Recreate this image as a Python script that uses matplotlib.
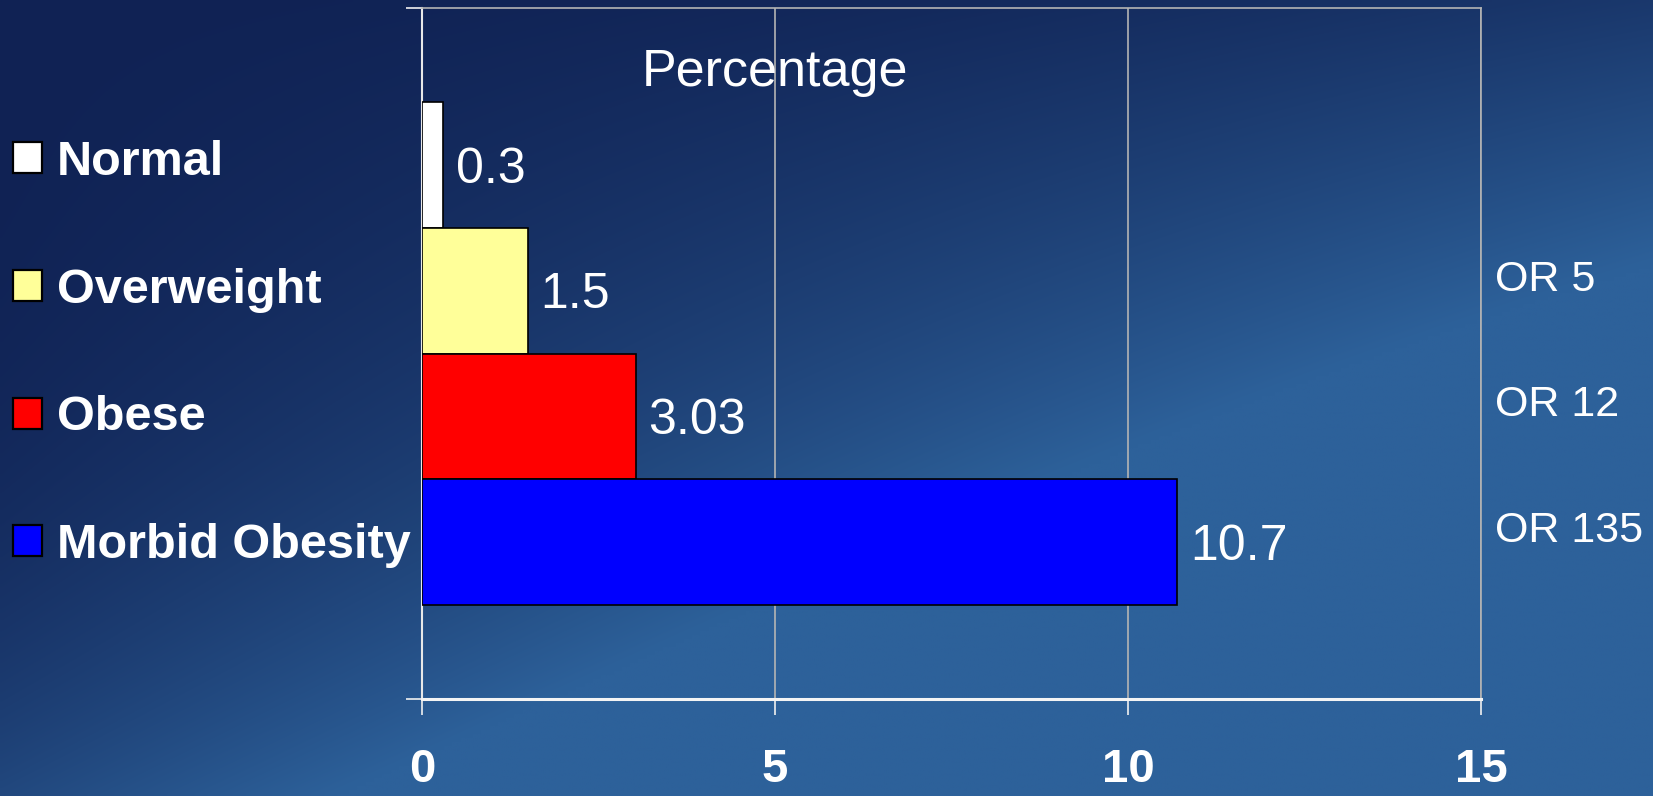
import numpy as np
import matplotlib
matplotlib.use("Agg")
import matplotlib.pyplot as plt
from matplotlib.patches import Patch

# ---- data ----
categories = ["Normal", "Overweight", "Obese", "Morbid Obesity"]
percentages = [0.3, 1.5, 3.03, 10.7]
value_labels = ["0.3", "1.5", "3.03", "10.7"]
odds_ratios = ["", "OR 5", "OR 12", "OR 135"]
bar_colors = ["#ffffff", "#ffff99", "#ff0000", "#0000ff"]
x_ticks = [0, 5, 10, 15]
axis_title = "Percentage"

W, H = 1653, 796
DPI = 100
fig = plt.figure(figsize=(W / DPI, H / DPI), dpi=DPI)

# ---- gradient background ----
bg = fig.add_axes([0, 0, 1, 1], zorder=-10)
xn, yn = np.meshgrid(np.linspace(0, 1, 400), np.linspace(0, 1, 200))
t = np.clip(0.35 * xn**2 + 0.6 * yn**3 + 1.9 * xn * yn, 0, 1)
dark = np.array([16, 34, 84]) / 255.0
light = np.array([45, 97, 154]) / 255.0
img = dark[None, None, :] * (1 - t[..., None]) + light[None, None, :] * t[..., None]
bg.imshow(img, aspect="auto", extent=[0, 1, 1, 0], interpolation="bilinear")
bg.set_xlim(0, 1)
bg.set_ylim(1, 0)
bg.axis("off")

# ---- main axes ----
left, right, top, bottom = 422, 1481, 8, 699
ax = fig.add_axes([left / W, (H - bottom) / H, (right - left) / W, (bottom - top) / H])
ax.set_facecolor("none")

ypos = np.arange(len(categories))
bars = ax.barh(ypos, percentages, height=1.0, color=bar_colors,
               edgecolor="black", linewidth=1.2, zorder=3)

ax.set_xlim(0, 15)
ax.set_ylim(4.25, -1.25)
ax.set_axisbelow(True)

# grid
ax.set_xticks(x_ticks)
ax.grid(axis="x", color="#b4b4b4", linewidth=1.2)
ax.grid(axis="y", visible=False)

# spines
for s in ["top", "right"]:
    ax.spines[s].set_color("#b4b4b4")
    ax.spines[s].set_linewidth(1.2)
ax.spines["left"].set_color("#e8e8e8")
ax.spines["left"].set_linewidth(1.5)
ax.spines["bottom"].set_color("#f4f4f4")
ax.spines["bottom"].set_linewidth(2.2)

# ticks
ax.set_yticks([-1.25, 4.25])
ax.set_yticklabels(["", ""])
ax.tick_params(axis="y", direction="out", length=11.5, width=1.2, color="#f0f0f0")
ax.tick_params(axis="x", direction="out", length=11.5, width=1.2, color="#f0f0f0",
               pad=24, labelcolor="white")
ax.set_xticklabels([str(v) for v in x_ticks],
                   fontfamily=["Liberation Sans Narrow", "Liberation Sans"],
                   fontweight="bold", fontsize=34)

# value labels
for i, (v, lab) in enumerate(zip(percentages, value_labels)):
    ax.annotate(lab, xy=(v, i), xytext=(9, -12.8), textcoords="offset points",
                ha="left", va="baseline", color="white", fontsize=36,
                fontfamily="Liberation Sans", zorder=5)

# odds ratio annotations
for i, orr in enumerate(odds_ratios):
    if orr:
        ax.text(15.2, i, orr, ha="left", va="baseline", color="white",
                fontsize=31, fontfamily="Liberation Sans", clip_on=False)

# axis title
ax.text(5, -0.633, axis_title, ha="center", va="baseline", color="white",
        fontsize=37.5, fontfamily="Liberation Sans", zorder=5)

# legend
handles = [Patch(facecolor=c, edgecolor="black", linewidth=1.6) for c in bar_colors]
leg = fig.legend(handles, categories, loc="center left",
                 bbox_to_anchor=(13 / W, (H - 354) / H),
                 frameon=False, borderpad=0, borderaxespad=0,
                 handlelength=0.6, handleheight=0.6, handletextpad=0.3,
                 labelspacing=1.7,
                 prop={"family": "Liberation Sans", "weight": "bold", "size": 35})
for txt in leg.get_texts():
    txt.set_color("white")

fig.savefig("out.png", dpi=DPI)
